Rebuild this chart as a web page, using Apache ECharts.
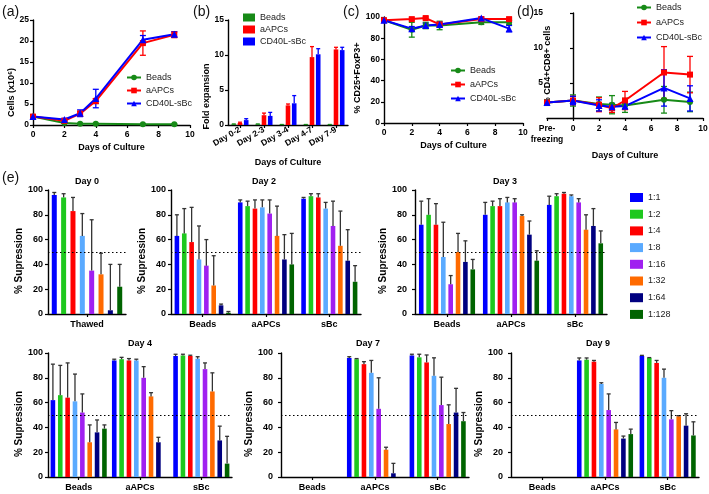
<!DOCTYPE html>
<html>
<head>
<meta charset="utf-8">
<script src="https://cdn.jsdelivr.net/npm/echarts@6/dist/echarts.min.js"></script>
<style>
  html, body { margin: 0; padding: 0; background: #fff; }
  #chart { width: 709px; height: 494px; }
</style>
</head>
<body>
<div id="chart"></div>
<script>
// ---------- data ----------
const groupNames = ['Beads', 'aAPCs', 'CD40L-sBc']
const groupColors = ['#178a17', '#ff0000', '#0000ff']
const groupSymbols = ['circle', 'rect', 'triangle']

// (a) cells (x10^6)
const daysA = [0, 2, 3, 4, 7, 9]
const cellsBeads = [2.0, 0.5, 0.3, 0.3, 0.2, 0.2]
const cellsAAPC = [2.0, 1.0, 2.7, 5.7, 19.5, 21.5]
const cellsSBc = [2.0, 1.3, 2.8, 6.3, 20.3, 21.6]
const cellsErrBeads = [0.3, 0.1, 0.1, 0.1, 0.1, 0.1]
const cellsErrAAPC = [0.3, 0.2, 0.6, 0.6, 2.9, 0.7]
const cellsErrSBc = [0.3, 0.3, 0.8, 2.2, 1.0, 0.6]

// (b) fold expansion
const foldCats = ['Day 0-2', 'Day 2-3', 'Day 3-4', 'Day 4-7', 'Day 7-9']
const foldBeads = [0.1, 0.1, 0.05, 0.05, 0.05]
const foldAAPC = [0.3, 1.4, 2.8, 9.7, 10.8]
const foldSBc = [0.7, 1.3, 3.1, 10.1, 10.7]
const foldErrBeads = [0.05, 0.05, 0.02, 0.02, 0.02]
const foldErrAAPC = [0.1, 0.3, 0.2, 1.5, 0.3]
const foldErrSBc = [0.2, 0.5, 1.1, 0.8, 0.4]

// (c) % CD25+FoxP3+
const daysC = [0, 2, 3, 4, 7, 9]
const foxBeads = [97, 88, 92, 92, 95, 95]
const foxAAPC = [97, 98, 99, 93, 98, 98]
const foxSBc = [97, 89, 92, 93, 99, 89]
const foxErrBeads = [1, 7, 3, 4, 2, 2]
const foxErrAAPC = [1, 1, 1, 1, 1, 1]
const foxErrSBc = [1, 2, 2, 2, 1, 3]

// (d) % CD4+CD8+ cells (-2 = pre-freezing)
const daysD = [-2, 0, 2, 3, 4, 7, 9]
const dpBeads = [2.2, 2.5, 2.0, 1.9, 1.8, 2.6, 2.3]
const dpAAPC = [2.2, 2.5, 1.9, 1.4, 2.5, 6.5, 6.2]
const dpSBc = [2.2, 2.5, 1.8, 1.6, 1.7, 4.3, 2.8]
const dpErrBeads = [0.4, 0.8, 1.0, 1.3, 1.0, 1.9, 1.4]
const dpErrAAPC = [0.3, 0.6, 1.0, 0.6, 1.3, 3.7, 2.6]
const dpErrSBc = [0.3, 0.6, 0.8, 0.5, 0.4, 2.6, 1.8]

// (e) % suppression, one value per ratio
const ratioNames = ['1:1', '1:2', '1:4', '1:8', '1:16', '1:32', '1:64', '1:128']
const ratioColors = ['#0000ff', '#1ec81e', '#ff0000', '#5aaaff', '#a020f0', '#ff6a00', '#000080', '#006400']

const d0Thawed = [96, 94, 83, 63, 35, 32, 3, 22]
const d0ThawedErr = [2, 3, 11, 18, 41, 17, 37, 18]

const d2Beads = [63, 65, 58, 44, 39, 23, 7, 1]
const d2BeadsErr = [17, 20, 28, 27, 21, 24, 1, 1]
const d2AAPC = [90, 87, 85, 86, 81, 63, 44, 40]
const d2AAPCErr = [2, 4, 7, 6, 11, 24, 20, 25]
const d2SBc = [93, 95, 94, 85, 71, 55, 43, 26]
const d2SBcErr = [1, 2, 3, 5, 20, 28, 25, 13]

const d3Beads = [72, 80, 72, 46, 24, 50, 42, 36]
const d3BeadsErr = [19, 13, 17, 28, 7, 15, 17, 8]
const d3AAPC = [80, 87, 87, 90, 90, 79, 64, 43]
const d3AAPCErr = [10, 4, 6, 4, 3, 1, 11, 8]
const d3SBc = [88, 95, 97, 95, 90, 68, 71, 57]
const d3SBcErr = [7, 2, 1, 1, 3, 12, 14, 10]

const d4Beads = [62, 66, 64, 61, 52, 28, 36, 39]
const d4BeadsErr = [29, 24, 28, 22, 15, 14, 10, 3]
const d4AAPC = [94, 95, 94, 94, 80, 65, 28, null]
const d4AAPCErr = [1, 1.5, 1.5, 1, 9, 3, 4, null]
const d4SBc = [97.6, 98, 97.6, 95.4, 87, 69, 29.5, 10.8]
const d4SBcErr = [1.4, 1, 0.6, 1.6, 5, 15, 11.5, 22]

const d7Beads = [null, null, null, null, null, null, null, null]
const d7AAPC = [96, 95, 91, 84, 55, 22, 3, null]
const d7AAPCErr = [1, 0.5, 2, 10, 25, 2, 8, null]
const d7SBc = [98, 96.5, 92.4, 81.6, 58, 42.7, 52, 45]
const d7SBcErr = [1, 2.5, 6, 14.5, 22.5, 15.5, 19.5, 7]

const d9Beads = [null, null, null, null, null, null, null, null]
const d9AAPC = [94, 94.6, 93, 75, 54, 38.4, 31, 34.6]
const d9AAPCErr = [2, 1.4, 1, 1, 13, 5.6, 2, 4]
const d9SBc = [97.6, 96, 92, 80, 46.5, 49, 41.4, 33.5]
const d9SBcErr = [0.5, 0.3, 2, 7, 7, 0.5, 9.6, 11]

const ePanels = [
  { title: 'Day 0', cats: ['Thawed'], means: [d0Thawed], errs: [d0ThawedErr] },
  { title: 'Day 2', cats: ['Beads', 'aAPCs', 'sBc'], means: [d2Beads, d2AAPC, d2SBc], errs: [d2BeadsErr, d2AAPCErr, d2SBcErr] },
  { title: 'Day 3', cats: ['Beads', 'aAPCs', 'sBc'], means: [d3Beads, d3AAPC, d3SBc], errs: [d3BeadsErr, d3AAPCErr, d3SBcErr] },
  { title: 'Day 4', cats: ['Beads', 'aAPCs', 'sBc'], means: [d4Beads, d4AAPC, d4SBc], errs: [d4BeadsErr, d4AAPCErr, d4SBcErr] },
  { title: 'Day 7', cats: ['Beads', 'aAPCs', 'sBc'], means: [d7Beads, d7AAPC, d7SBc], errs: [d7Beads, d7AAPCErr, d7SBcErr] },
  { title: 'Day 9', cats: ['Beads', 'aAPCs', 'sBc'], means: [d9Beads, d9AAPC, d9SBc], errs: [d9Beads, d9AAPCErr, d9SBcErr] }
]

// ---------- layout ----------
const FONT = 'Liberation Sans'
const tickFont = { fontFamily: FONT, fontWeight: 'bold', fontSize: 8.5, color: '#000' }
const nameFont = { fontFamily: FONT, fontWeight: 'bold', fontSize: 9, color: '#000' }
const axLine = { show: true, lineStyle: { color: '#000', width: 1.4 } }
const axTick = { show: true, length: 3, lineStyle: { color: '#000', width: 1.2 } }

// grid boxes for e panels + bar layout
const eLayout = [
  { left: 48, top: 190, width: 78, height: 124, bw: 5, gap: 0.87, nameGap: 20, margin: 5, tx: 87, ty: 182 },
  { left: 171, top: 190, width: 190, height: 124, bw: 4.6, gap: 0.6, nameGap: 18, margin: 5, tx: 264, ty: 182 },
  { left: 415, top: 190, width: 192, height: 124, bw: 4.6, gap: 0.6, nameGap: 24, margin: 8, tx: 505, ty: 182 },
  { left: 48, top: 353, width: 184, height: 124, bw: 4.6, gap: 0.6, nameGap: 20, margin: 5, tx: 140, ty: 344 },
  { left: 281, top: 353, width: 188, height: 124, bw: 4.6, gap: 0.6, nameGap: 23, margin: 8, tx: 368, ty: 344 },
  { left: 511, top: 353, width: 188, height: 124, bw: 4.6, gap: 0.6, nameGap: 23, margin: 8, tx: 598, ty: 344 }
]

const chart = echarts.init(document.getElementById('chart'))

// symmetric error bar on value x axis
function lineErr (params, api) {
  const x = api.value(0), y = api.value(1), e = api.value(2)
  const lo = api.coord([x, y - e]), hi = api.coord([x, y + e])
  const st = { stroke: api.visual('color'), lineWidth: 1.3 }
  const w = 3
  return {
    type: 'group',
    children: [
      { type: 'line', shape: { x1: lo[0], y1: lo[1], x2: hi[0], y2: hi[1] }, style: st },
      { type: 'line', shape: { x1: lo[0] - w, y1: lo[1], x2: lo[0] + w, y2: lo[1] }, style: st },
      { type: 'line', shape: { x1: hi[0] - w, y1: hi[1], x2: hi[0] + w, y2: hi[1] }, style: st }
    ]
  }
}

// upper error bar for grouped bars
function barErr (n, bw, gap, colors, cap) {
  return function (params, api) {
    const cat = api.value(0), k = api.value(1), v = api.value(2), e = api.value(3)
    const base = api.coord([cat, v]), top = api.coord([cat, v + e])
    const total = n * bw + (n - 1) * bw * gap
    const x = base[0] - total / 2 + k * bw * (1 + gap) + bw / 2
    const st = { stroke: colors[k], lineWidth: 1.3 }
    return {
      type: 'group',
      children: [
        { type: 'line', shape: { x1: x, y1: base[1], x2: x, y2: top[1] }, style: st },
        { type: 'line', shape: { x1: x - cap, y1: top[1], x2: x + cap, y2: top[1] }, style: st }
      ]
    }
  }
}

const grids = [
  { left: 33, top: 20, width: 157, height: 105 },
  { left: 228, top: 20, width: 120, height: 105 },
  { left: 384, top: 17, width: 139, height: 106 },
  { left: 547, top: 13, width: 156, height: 105 }
].concat(eLayout.map(l => ({ left: l.left, top: l.top, width: l.width, height: l.height })))
grids.forEach(g => { g.outerBoundsMode = 'none'; g.containLabel = false })

function valX (gi, min, max, interval, name, gap, extra) {
  return Object.assign({
    type: 'value', gridIndex: gi, min, max, interval,
    name, nameLocation: 'middle', nameGap: gap, nameTextStyle: nameFont,
    axisLine: Object.assign({ onZero: true }, axLine), axisTick: axTick,
    axisLabel: Object.assign({ margin: 5 }, tickFont), splitLine: { show: false }
  }, extra || {})
}
function valY (gi, min, max, interval, name, gap, pad, extra) {
  return Object.assign({
    type: 'value', gridIndex: gi, min, max, interval,
    name, nameLocation: 'middle', nameGap: gap,
    nameTextStyle: Object.assign({ padding: pad }, nameFont),
    axisLine: axLine, axisTick: axTick,
    axisLabel: Object.assign({ margin: 4 }, tickFont), splitLine: { show: false }
  }, extra || {})
}

const xAxes = [
  valX(0, 0, 10, 2, 'Days of Culture', 18),
  {
    type: 'category', gridIndex: 1, data: foldCats,
    name: 'Days of Culture', nameLocation: 'middle', nameGap: 33, nameTextStyle: nameFont,
    axisLine: axLine, axisTick: Object.assign({ alignWithLabel: true }, axTick),
    axisLabel: Object.assign({ rotate: 30, margin: 4, interval: 0 }, tickFont)
  },
  valX(2, 0, 10, 2, 'Days of Culture', 18),
  valX(3, -2, 10, 2, 'Days of Culture', 33, {
    axisLabel: Object.assign({
      margin: 5, lineHeight: 11,
      formatter: v => (v === -2 ? 'Pre-\nfreezing' : v)
    }, tickFont)
  })
]
const yAxes = [
  valY(0, 0, 25, 5, 'Cells (x10\u2076)', 16, [0, 40, 0, 0]),
  valY(1, 0, 15, 5, 'Fold expansion', 13, [0, 48, 0, 0]),
  valY(2, 0, 100, 20, '% CD25+FoxP3+', 17, [0, 16, 0, 0]),
  valY(3, 0, 15, 5, '% CD4+CD8+ cells', -5, [0, 0, 0, 0], {
    nameMoveOverlap: false,
    axisLine: Object.assign({ onZero: true }, axLine),
    axisLabel: Object.assign({ margin: 4, formatter: v => (v === 0 ? '' : v) }, tickFont)
  })
]

const series = []

// (a), (c), (d) line panels
const linePanels = [
  { gi: 0, x: daysA, ys: [cellsBeads, cellsAAPC, cellsSBc], es: [cellsErrBeads, cellsErrAAPC, cellsErrSBc] },
  { gi: 2, x: daysC, ys: [foxBeads, foxAAPC, foxSBc], es: [foxErrBeads, foxErrAAPC, foxErrSBc] },
  { gi: 3, x: daysD, ys: [dpBeads, dpAAPC, dpSBc], es: [dpErrBeads, dpErrAAPC, dpErrSBc] }
]
linePanels.forEach(p => {
  groupNames.forEach((g, i) => {
    series.push({
      type: 'custom', xAxisIndex: p.gi, yAxisIndex: p.gi,
      itemStyle: { color: groupColors[i] }, renderItem: lineErr,
      encode: { x: 0, y: 1 },
      data: p.x.map((d, j) => [d, p.ys[i][j], p.es[i][j]]), z: 2
    })
    series.push({
      type: 'line', name: p.gi + '|' + g, xAxisIndex: p.gi, yAxisIndex: p.gi,
      data: p.x.map((d, j) => [d, p.ys[i][j]]),
      symbol: groupSymbols[i], symbolSize: i === 2 ? 7 : 6,
      lineStyle: { color: groupColors[i], width: 2 },
      itemStyle: { color: groupColors[i] }, z: 3
    })
  })
})

// (b) grouped bars
const foldMeans = [foldBeads, foldAAPC, foldSBc]
const foldErrs = [foldErrBeads, foldErrAAPC, foldErrSBc]
groupNames.forEach((g, i) => {
  series.push({
    type: 'bar', name: '1|' + g, xAxisIndex: 1, yAxisIndex: 1,
    data: foldMeans[i], barWidth: 4.6, barGap: '35%',
    itemStyle: { color: groupColors[i] }
  })
})
series.push({
  type: 'custom', xAxisIndex: 1, yAxisIndex: 1, encode: { x: 0, y: 2 },
  renderItem: barErr(3, 4.6, 0.35, groupColors, 2),
  data: [].concat(...foldMeans.map((m, k) => m.map((v, c) => [c, k, v, foldErrs[k][c]]))),
  z: 3
})

// (e) suppression panels
const graphics = []
ePanels.forEach((p, pi) => {
  const l = eLayout[pi]
  const gi = 4 + pi
  xAxes.push({
    type: 'category', gridIndex: gi, data: p.cats,
    axisLine: axLine, axisTick: Object.assign({ alignWithLabel: true }, axTick),
    axisLabel: Object.assign({ margin: 6 }, tickFont, { fontSize: 9 })
  })
  yAxes.push(valY(gi, 0, 100, 20, '% Supression', l.nameGap, [0, 18, 0, 0], {
    nameTextStyle: Object.assign({ padding: [0, 18, 0, 0] }, nameFont, { fontSize: 10 }),
    axisLabel: Object.assign({ margin: l.margin }, tickFont, { fontSize: 9 })
  }))
  ratioNames.forEach((r, k) => {
    series.push({
      type: 'bar', name: r, xAxisIndex: gi, yAxisIndex: gi,
      data: p.means.map(m => m[k]), barWidth: l.bw, barGap: (l.gap * 100) + '%',
      itemStyle: { color: ratioColors[k] }
    })
  })
  const errData = []
  p.means.forEach((m, c) => m.forEach((v, k) => {
    if (v != null) errData.push([c, k, v, p.errs[c][k]])
  }))
  series.push({
    type: 'custom', xAxisIndex: gi, yAxisIndex: gi, encode: { x: 0, y: 2 },
    renderItem: barErr(8, l.bw, l.gap, ratioNames.map(() => '#333'), 2),
    data: errData, z: 3,
    markLine: {
      silent: true, symbol: 'none', label: { show: false },
      lineStyle: { color: '#000', width: 1, type: [1.5, 2.5] },
      data: [{ yAxis: 50 }]
    }
  })
  graphics.push({
    type: 'text', x: l.tx, y: l.ty,
    style: { text: p.title, font: 'bold 9px "Liberation Sans"', fill: '#000', align: 'center', textAlign: 'center', verticalAlign: 'middle', textVerticalAlign: 'middle' }
  })
})

// panel letters
;[['(a)', 2, 12], ['(b)', 193, 12], ['(c)', 343, 12], ['(d)', 517, 12], ['(e)', 2, 178]].forEach(t => {
  graphics.push({
    type: 'text', x: t[1], y: t[2],
    style: { text: t[0], font: '14px "Liberation Sans"', fill: '#111', align: 'left', textAlign: 'left', verticalAlign: 'middle', textVerticalAlign: 'middle' }
  })
})

const legText = { fontFamily: FONT, fontSize: 9, color: '#222' }
const fmt = name => name.split('|').pop()
const legends = [
  { left: 126, top: 73, data: groupNames.map(g => '0|' + g), itemWidth: 14, itemHeight: 7, itemGap: 4 },
  { left: 243, top: 13, data: groupNames.map(g => '1|' + g), itemWidth: 12, itemHeight: 8, itemGap: 3, icon: 'rect' },
  { left: 450, top: 66, data: groupNames.map(g => '2|' + g), itemWidth: 14, itemHeight: 7, itemGap: 5 },
  { left: 636, top: 3, data: groupNames.map(g => '3|' + g), itemWidth: 14, itemHeight: 7, itemGap: 6 },
  { left: 630, top: 193, data: ratioNames, itemWidth: 13, itemHeight: 9, itemGap: 7.7, icon: 'rect' }
].map(l => Object.assign({ orient: 'vertical', padding: 0, textStyle: legText, formatter: fmt }, l))

chart.setOption({
  animation: false,
  textStyle: { fontFamily: FONT },
  grid: grids,
  xAxis: xAxes,
  yAxis: yAxes,
  legend: legends,
  graphic: graphics,
  series
})
</script>
</body>
</html>
